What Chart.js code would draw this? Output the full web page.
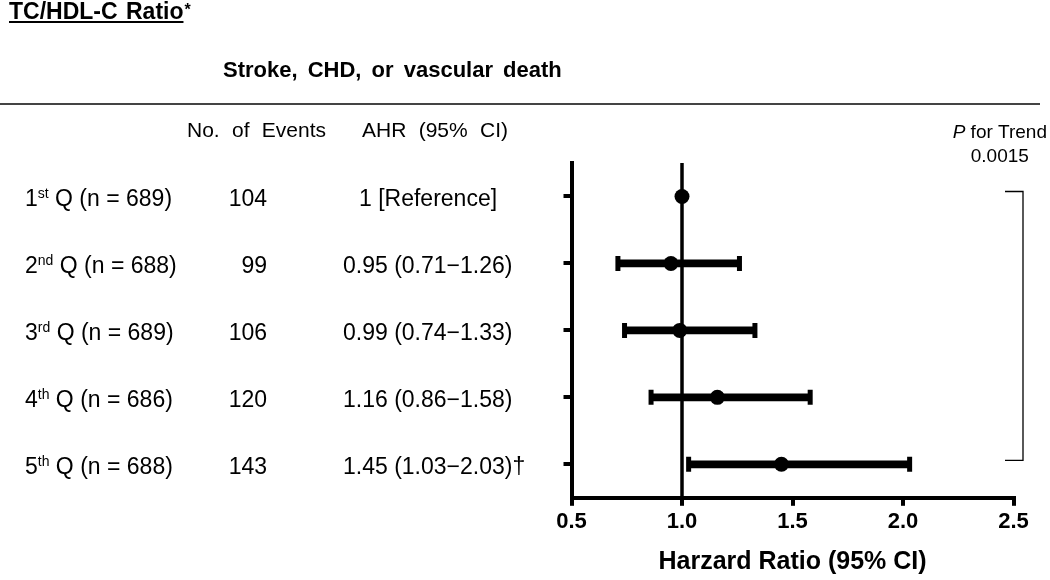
<!DOCTYPE html>
<html>
<head>
<meta charset="utf-8">
<script src="https://cdn.jsdelivr.net/npm/chart.js@4/dist/chart.umd.min.js"></script>
<style>
  body { margin: 0; background: #fff; }
  canvas { display: block; }
</style>
</head>
<body>
<canvas id="forestChart" width="1050" height="580"></canvas>
<script>
// rows (quintiles)
const categories = ['Q1', 'Q2', 'Q3', 'Q4', 'Q5'];
const ordinals = ['1', '2', '3', '4', '5'];
const suffixes = ['st', 'nd', 'rd', 'th', 'th'];
const groupSizes = [689, 688, 689, 686, 688];
const events = [104, 99, 106, 120, 143];
const ahr = [1, 0.95, 0.99, 1.16, 1.45];
const lower = [null, 0.71, 0.74, 0.86, 1.03];
const upper = [null, 1.26, 1.33, 1.58, 2.03];
const marks = ['', '', '', '', '†'];
const xTicks = [0.5, 1.0, 1.5, 2.0, 2.5];
const refValue = 1;
const pTrend = '0.0015';

const FONT = '"Liberation Sans", Arial, sans-serif';
Chart.defaults.font.family = FONT;
Chart.defaults.color = '#000';

const capPoints = [];
lower.forEach((lo, i) => {
  if (lo == null) return;
  capPoints.push({ x: lo, y: categories[i] });
  capPoints.push({ x: upper[i], y: categories[i] });
});

// reference line at HR = 1
const refLine = {
  id: 'refLine',
  beforeDatasetsDraw(chart) {
    const { ctx, chartArea, scales } = chart;
    const x = scales.x.getPixelForValue(refValue);
    ctx.save();
    ctx.strokeStyle = '#000';
    ctx.lineWidth = 3.5;
    ctx.beginPath();
    ctx.moveTo(x, chartArea.top);
    ctx.lineTo(x, chartArea.bottom);
    ctx.stroke();
    ctx.restore();
  }
};

function drawParts(ctx, x, y, parts) {
  // parts: [text, font, dy]
  parts.forEach(([t, f, dy]) => {
    ctx.font = f;
    ctx.fillText(t, x, y + (dy || 0));
    x += ctx.measureText(t).width;
  });
  return x;
}

// table text on the left, titles, p for trend + bracket
const textPlugin = {
  id: 'textPlugin',
  afterDraw(chart) {
    const { ctx, scales } = chart;
    const yS = scales.y, xS = scales.x;
    ctx.save();
    ctx.fillStyle = '#000';
    ctx.textBaseline = 'alphabetic';
    ctx.textAlign = 'left';

    ctx.font = 'bold 23px ' + FONT;
    ctx.wordSpacing = '2px';
    ctx.fillText('TC/HDL-C Ratio', 9, 19);
    const tw = ctx.measureText('TC/HDL-C Ratio').width;
    ctx.wordSpacing = '0px';
    ctx.fillRect(9, 21, tw, 2);
    ctx.font = 'bold 16px ' + FONT;
    ctx.fillText('*', 9 + tw + 1, 15);

    ctx.font = 'bold 22px ' + FONT;
    ctx.wordSpacing = '4px';
    ctx.fillText('Stroke, CHD, or vascular death', 223, 77);
    ctx.wordSpacing = '0px';

    ctx.fillStyle = '#444';
    ctx.fillRect(0, 103, 1040, 2);
    ctx.fillStyle = '#000';

    ctx.font = '21px ' + FONT;
    ctx.wordSpacing = '6.5px';
    ctx.fillText('No. of Events', 187, 137);
    ctx.fillText('AHR (95% CI)', 362, 137);
    ctx.wordSpacing = '0px';

    categories.forEach((c, i) => {
      const y = yS.getPixelForValue(i) + 10;
      drawParts(ctx, 25, y, [
        [ordinals[i], '23px ' + FONT, 0],
        [suffixes[i], '14px ' + FONT, -8],
        [' Q (n = ' + groupSizes[i] + ')', '23px ' + FONT, 0]
      ]);
      ctx.font = '23px ' + FONT;
      ctx.textAlign = 'right';
      ctx.fillText(String(events[i]), 267, y);
      ctx.textAlign = 'left';
      if (lower[i] == null) {
        ctx.fillText('1 [Reference]', 359, y);
      } else {
        const txt = ahr[i].toFixed(2) + ' (' + lower[i].toFixed(2) + '\u2212' + upper[i].toFixed(2) + ')' + marks[i];
        ctx.fillText(txt, 343, y);
      }
    });

    const pRight = 1047;
    ctx.font = '19px ' + FONT;
    const w2 = ctx.measureText(' for Trend').width;
    ctx.font = 'italic 19px ' + FONT;
    const w1 = ctx.measureText('P').width;
    const px = pRight - w1 - w2;
    drawParts(ctx, px, 138, [
      ['P', 'italic 19px ' + FONT, 0],
      [' for Trend', '19px ' + FONT, 0]
    ]);
    ctx.font = '19px ' + FONT;
    ctx.textAlign = 'center';
    ctx.fillText(pTrend, px + (w1 + w2) / 2, 162);

    const bx = xS.getPixelForValue(xTicks[xTicks.length - 1]) + 9.5;
    const top = yS.getPixelForValue(0) - 5;
    const bot = yS.getPixelForValue(categories.length - 1) - 4;
    ctx.strokeStyle = '#000';
    ctx.lineWidth = 1.3;
    ctx.beginPath();
    ctx.moveTo(bx - 18, top);
    ctx.lineTo(bx, top);
    ctx.lineTo(bx, bot);
    ctx.lineTo(bx - 18, bot);
    ctx.stroke();
    ctx.restore();
  }
};

new Chart(document.getElementById('forestChart').getContext('2d'), {
  type: 'bar',
  data: {
    labels: categories,
    datasets: [
      {
        type: 'bar',
        indexAxis: 'y',
        data: lower.map((lo, i) => (lo == null ? null : [lo, upper[i]])),
        backgroundColor: '#000',
        barThickness: 7,
        borderWidth: 0
      },
      {
        type: 'scatter',
        data: capPoints,
        pointStyle: 'line',
        rotation: 90,
        pointRadius: 7.5,
        borderWidth: 5,
        borderColor: '#000'
      },
      {
        type: 'scatter',
        data: ahr.map((v, i) => ({ x: v, y: categories[i] })),
        pointRadius: 7.5,
        backgroundColor: '#000',
        borderColor: '#000',
        borderWidth: 0
      }
    ]
  },
  options: {
    responsive: false,
    animation: false,
    indexAxis: 'y',
    layout: { padding: { left: 563.5, right: 36.5, top: 163, bottom: 0 } },
    plugins: { legend: { display: false }, tooltip: { enabled: false } },
    scales: {
      x: {
        type: 'linear',
        position: 'bottom',
        min: 0.5,
        max: 2.5,
        afterBuildTicks: (scale) => { scale.ticks = xTicks.map(v => ({ value: v })); },
        ticks: {
          callback: (v) => Number(v).toFixed(1),
          font: { size: 22, weight: 'bold' },
          color: '#000',
          padding: 3,
          maxRotation: 0
        },
        grid: { drawOnChartArea: false, drawTicks: true, tickLength: 8, color: '#000', lineWidth: 4 },
        border: { display: true, color: '#000', width: 4 },
        title: {
          display: true,
          text: 'Harzard Ratio (95% CI)',
          font: { size: 25, weight: 'bold' },
          color: '#000',
          padding: { top: 8.8, bottom: 3 }
        }
      },
      y: {
        type: 'category',
        position: 'left',
        offset: true,
        ticks: { display: false },
        grid: { offset: false, drawOnChartArea: false, drawTicks: true, tickLength: 8, color: '#000', lineWidth: 4 },
        border: { display: true, color: '#000', width: 4 }
      }
    }
  },
  plugins: [refLine, textPlugin]
});
</script>
</body>
</html>
